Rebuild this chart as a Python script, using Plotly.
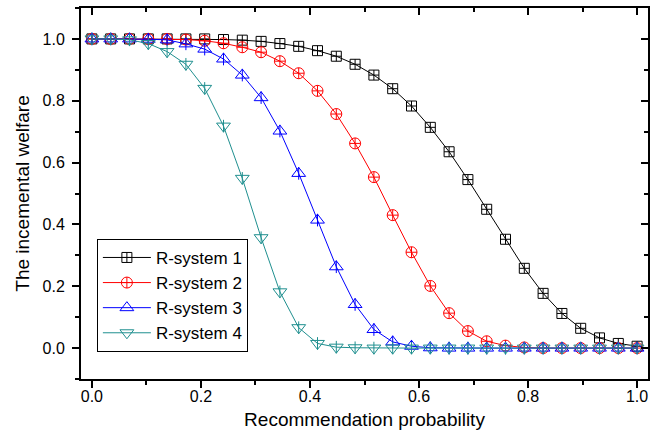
import plotly.graph_objects as go

n_points = 30
x_vals = [i / 29 for i in range(n_points)]

r1 = [1.0, 1.0, 1.0, 1.0, 1.0, 1.0, 1.0, 0.998, 0.996, 0.992,
      0.985, 0.976, 0.962, 0.944, 0.918, 0.883, 0.839, 0.783, 0.714, 0.635,
      0.545, 0.449, 0.352, 0.258, 0.177, 0.112, 0.064, 0.033, 0.015, 0.006]
r2 = [1.0, 1.0, 1.0, 1.0, 1.0, 0.998, 0.994, 0.986, 0.973, 0.957,
      0.928, 0.889, 0.832, 0.757, 0.662, 0.553, 0.430, 0.310, 0.201, 0.113,
      0.055, 0.022, 0.008, 0.002, 0.0, 0.0, 0.0, 0.0, 0.0, 0.0]
r3 = [1.0, 1.0, 1.0, 0.999, 0.997, 0.984, 0.967, 0.935, 0.883, 0.810,
      0.702, 0.565, 0.414, 0.263, 0.141, 0.060, 0.020, 0.006, 0.001, 0.0,
      0.0, 0.0, 0.0, 0.0, 0.0, 0.0, 0.0, 0.0, 0.0, 0.0]
r4 = [1.0, 1.0, 0.997, 0.985, 0.959, 0.918, 0.840, 0.718, 0.549, 0.357,
      0.182, 0.066, 0.015, 0.003, 0.001, 0.0, 0.0, 0.0, 0.0, 0.0,
      0.0, 0.0, 0.0, 0.0, 0.0, 0.0, 0.0, 0.0, 0.0, 0.0]

names = ["R-system 1", "R-system 2", "R-system 3", "R-system 4"]
series = [r1, r2, r3, r4]
colors = ["#000000", "#FF0000", "#0000FF", "#1F8F8F"]
symbols = ["square-cross-open", "circle-cross-open", "triangle-up-open", "triangle-down-open"]
sizes = [10, 11, 12, 12]

x_ticks = [0.0, 0.2, 0.4, 0.6, 0.8, 1.0]
y_ticks = [0.0, 0.2, 0.4, 0.6, 0.8, 1.0]
x_range = [-0.02, 1.02]
y_range = [-0.1, 1.1]

fig = go.Figure()
for name, ys, c, s, sz in zip(names, series, colors, symbols, sizes):
    fig.add_trace(go.Scatter(
        x=x_vals, y=ys, name=name, mode="lines+markers",
        line=dict(color=c, width=1),
        marker=dict(symbol=s, size=sz, color=c, line=dict(color=c, width=1)),
    ))
    if "triangle" in s:
        # vertical stroke inside the triangle markers
        fig.add_trace(go.Scatter(
            x=x_vals, y=ys, mode="markers", showlegend=False, hoverinfo="skip",
            marker=dict(symbol="line-ns-open", size=9, color=c, line=dict(color=c, width=1)),
        ))

font_family = "Liberation Sans, Arial, sans-serif"
tick_common = dict(ticklen=7, tickwidth=1.5, tickcolor="black",
                   showgrid=False, zeroline=False, linecolor="black", linewidth=2,
                   showline=True, automargin=False)
fig.update_layout(
    width=662, height=430,
    margin=dict(l=81, r=14, t=8, b=51),
    paper_bgcolor="white", plot_bgcolor="white",
    font=dict(family=font_family, color="black", size=16),
    legend=dict(
        x=0.028, y=0.073, xanchor="left", yanchor="bottom",
        bordercolor="black", borderwidth=1, bgcolor="white",
        font=dict(size=17), itemwidth=48, tracegroupgap=0,
    ),
    xaxis=dict(
        range=x_range, tickvals=x_ticks, ticktext=[f"{v:.1f}" for v in x_ticks],
        ticks="outside", ticklabelstandoff=-5,
        minor=dict(ticks="outside", dtick=0.1, tick0=0, ticklen=4, tickwidth=1.5, tickcolor="black"),
        title=dict(text="Recommendation probability", font=dict(size=19), standoff=11),
        **tick_common,
    ),
    yaxis=dict(
        range=y_range, tickvals=y_ticks, ticktext=[f"{v:.1f}" for v in y_ticks],
        ticks="outside", ticklabelstandoff=4,
        minor=dict(ticks="outside", dtick=0.1, tick0=0, ticklen=4, tickwidth=1.5, tickcolor="black"),
        title=dict(text="The incemental welfare", font=dict(size=19), standoff=8),
        **tick_common,
    ),
    xaxis2=dict(
        overlaying="x", side="top", anchor="y", range=x_range, tickvals=x_ticks,
        showticklabels=False, ticks="inside",
        minor=dict(ticks="inside", dtick=0.1, tick0=0, ticklen=4, tickwidth=1.5, tickcolor="black"),
        **tick_common,
    ),
    yaxis2=dict(
        overlaying="y", side="right", anchor="x", range=y_range, tickvals=y_ticks,
        showticklabels=False, ticks="inside",
        minor=dict(ticks="inside", dtick=0.1, tick0=0, ticklen=4, tickwidth=1.5, tickcolor="black"),
        **tick_common,
    ),
)
# invisible helper trace so the mirrored frame axes are drawn
fig.add_trace(go.Scatter(x=[x_range[0]], y=[y_range[0]], xaxis="x2", yaxis="y2",
                         mode="markers", marker=dict(opacity=0), showlegend=False,
                         hoverinfo="skip"))

fig.write_html("out.html")
